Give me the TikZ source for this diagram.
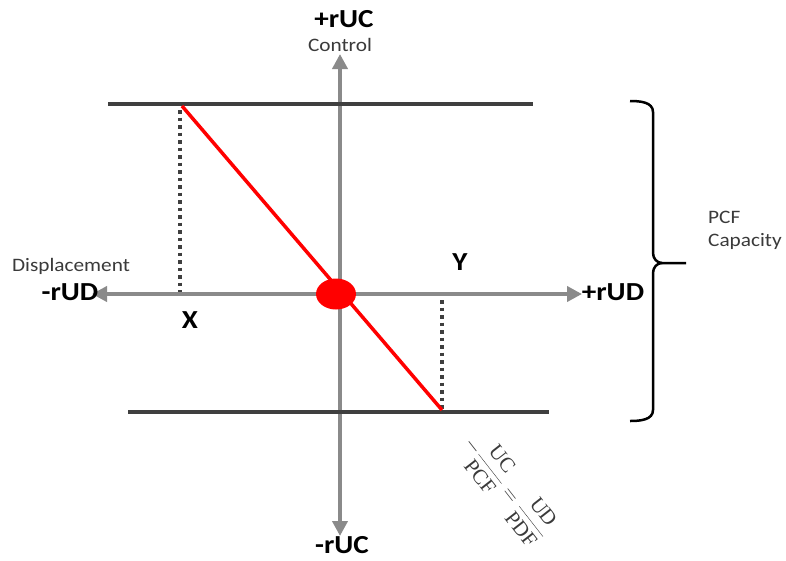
\documentclass[tikz,border=0pt]{standalone}
\usepackage{fontspec}
\setmainfont{Carlito}[FakeStretch=1.12]
\setmathrm{Liberation Serif}
\usetikzlibrary{arrows.meta, positioning, shapes.geometric}
\definecolor{caxis}{HTML}{8A8A8A}
\definecolor{cbar}{HTML}{3F3F3F}
\definecolor{cred}{HTML}{FF0000}
\definecolor{ctext}{HTML}{3A3A3A}
\tikzset{
  axis/.style={{Triangle[length=15pt, width=15pt]}-{Triangle[length=15pt, width=15pt]}, draw=caxis, line width=4pt},
  limit/.style={draw=cbar, line width=4pt},
  guide/.style={draw=cbar, line width=3.5pt, dash pattern=on 3.5pt off 4pt},
  big/.style={font=\fontsize{26}{30}\selectfont\bfseries, inner sep=1pt},
  small/.style={font=\fontsize{19}{23}\selectfont, text=ctext, inner sep=1pt},
}
\begin{document}
\begin{tikzpicture}[x=1pt, y=-1pt]
  \useasboundingbox (0,0) rectangle (786,560);
  % axes
  \coordinate (top) at (340,54);
  \coordinate (bot) at (340,536);
  \coordinate (left) at (92,294);
  \coordinate (right) at (582,294);
  \draw[axis] (bot) -- (top);
  \draw[axis] (left) -- (right);
  % capacity limits
  \coordinate (ul) at (108,104); \coordinate (ur) at (533,104);
  \coordinate (ll) at (128,412); \coordinate (lr) at (549,412);
  \draw[limit] (ul) -- (ur);
  \draw[limit] (ll) -- (lr);
  % guides
  \coordinate (xa) at (180,110); \coordinate (xb) at (180,292);
  \coordinate (ya) at (442,300); \coordinate (yb) at (442,410);
  \draw[guide] (xa) -- (xb);
  \draw[guide] (ya) -- (yb);
  % red line and origin
  \coordinate (ra) at (182,106); \coordinate (rb) at (442,410);
  \draw[cred, line width=3.5pt] (ra) -- (rb);
  \node[ellipse, fill=cred, minimum width=40pt, minimum height=31pt, inner sep=0pt] (o) at (336,294) {};
  % labels
  \node[big] (puc) at (344,19) {+rUC};
  \node[small] (ctl) at (340,45) {Control};
  \node[big] (muc) at (342,545) {-rUC};
  \node[small] (dsp) at (71,266) {Displacement};
  \node[big] (mud) at (70,292) {-rUD};
  \node[big] (pud) at (613,292) {+rUD};
  \node[big] (xl) at (190,320) {X};
  \node[big] (yl) at (460,262) {Y};
  % brace
  \coordinate (bt) at (630,101);
  \coordinate (bb) at (630,421);
  \coordinate (tip) at (686,263);
  \draw[black, line width=2.5pt] (bt) to[out=0, in=90] (653,112) -- (653,253)
    to[out=-90, in=180] (662,263) -- (tip);
  \draw[black, line width=2.5pt] (662,263) to[out=180, in=90] (653,273) -- (653,410)
    to[out=-90, in=0] (bb);
  \node[small, anchor=west, align=left] (pcf) at (707,230) {PCF\\Capacity};
  % ratio
  \node[rotate=-52, font=\fontsize{21}{25}\selectfont, text=ctext] (ratio) at (507,488)
    {$\displaystyle-\frac{\mathrm{UC}}{\mathrm{PCF}}=\frac{\mathrm{UD}}{\mathrm{PDF}}$};
\end{tikzpicture}
\end{document}
